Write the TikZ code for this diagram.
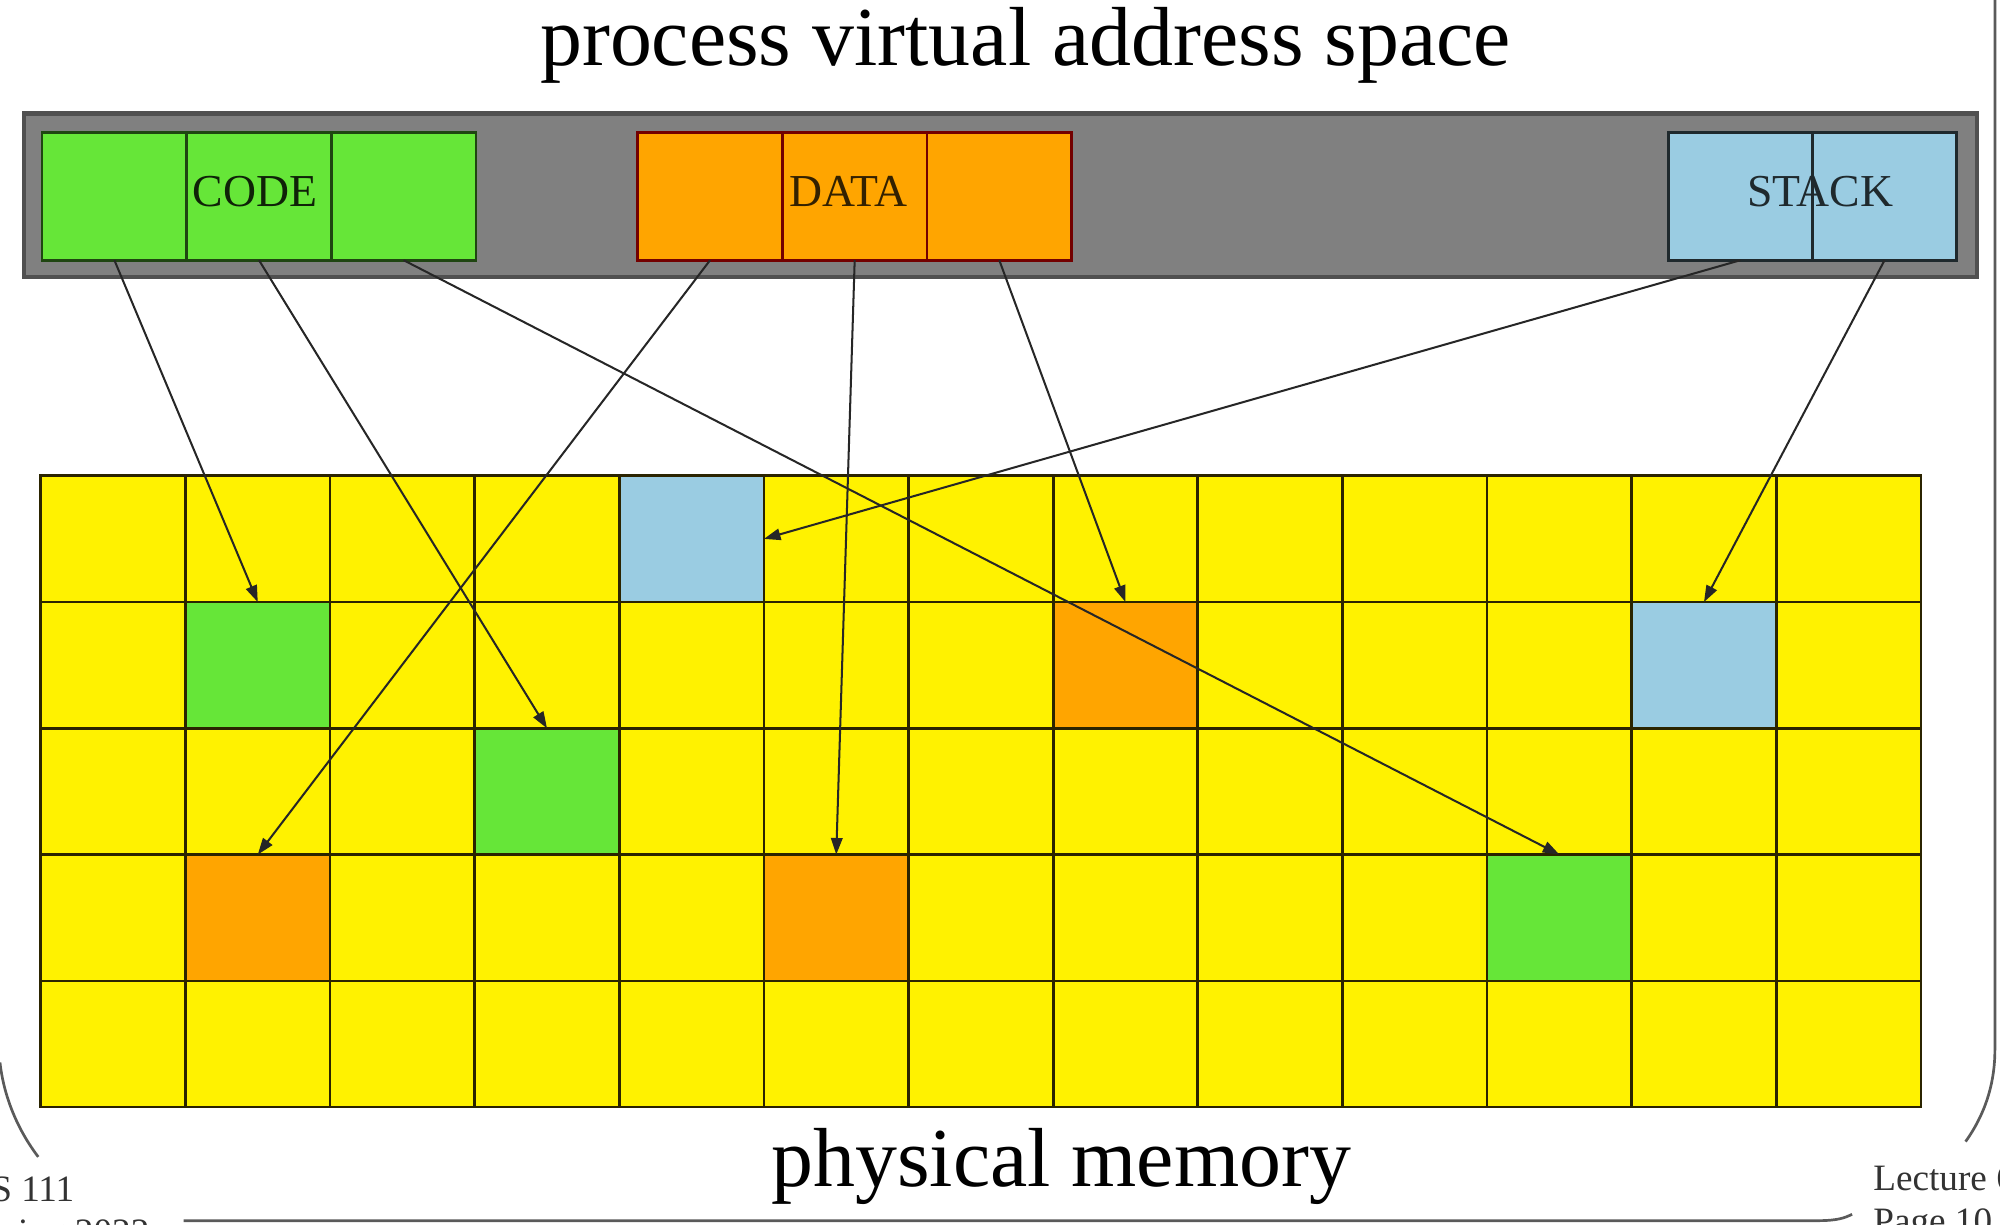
\documentclass[tikz,border=0pt]{standalone}
\usepackage{fontspec}
\setmainfont{Liberation Serif}
\usetikzlibrary{arrows.meta}
\definecolor{memyellow}{HTML}{FFF200}
\definecolor{codegreen}{HTML}{66E638}
\definecolor{dataorange}{HTML}{FFA500}
\definecolor{stackblue}{HTML}{9ACCE2}
\definecolor{bargray}{HTML}{808080}
\definecolor{barborder}{HTML}{505050}
\definecolor{gridline}{HTML}{2B2400}
\definecolor{framegray}{HTML}{5A5A5A}
\tikzset{
  cell/.style={draw=gridline, line width=0.6pt, fill=memyellow, minimum width=11.338mm, minimum height=9.9mm, inner sep=0pt, outer sep=0pt},
  topcell/.style={line width=0.6pt, minimum width=11.338mm, minimum height=10mm, inner sep=0pt, outer sep=0pt},
  codecell/.style={topcell, fill=codegreen, draw=black!70!codegreen},
  datacell/.style={topcell, fill=dataorange, draw=black!55!red},
  stackcell/.style={topcell, fill=stackblue, draw=black!80!stackblue, minimum width=11.3mm},
  seglabel/.style={font=\fontsize{10.2}{12}\selectfont, inner sep=0pt},
  cf-1-1/.style={fill=codegreen}, cf-3-2/.style={fill=codegreen}, cf-10-3/.style={fill=codegreen},
  cf-7-1/.style={fill=dataorange}, cf-1-3/.style={fill=dataorange}, cf-5-3/.style={fill=dataorange},
  cf-4-0/.style={fill=stackblue}, cf-11-1/.style={fill=stackblue},
  map/.style={draw=black!85, line width=0.45pt, -{Triangle[length=1.3mm,width=0.9mm]}},
  bigtext/.style={font=\fontsize{18.7}{22}\selectfont, inner sep=0pt, anchor=base},
  smalltext/.style={font=\fontsize{8.3}{9.6}\selectfont, text=black!80, inner sep=0pt, anchor=base west},
  frameline/.style={draw=framegray, line width=0.6pt}
}
\begin{document}
\begin{tikzpicture}[x=0.1mm, y=-0.1mm]
\useasboundingbox (0,0) rectangle (1568,960);
\clip (0,0) rectangle (1568,960);
\fill[white] (0,0) rectangle (1568,960);

% titles
\node[bigtext] (title) at (804,51) {process virtual address space};
\node[bigtext] (phys) at (832,930) {physical memory};

% virtual address space bar
\node[draw=barborder, fill=bargray, line width=1pt, minimum width=153.1mm, minimum height=12.8mm, inner sep=0pt] (bar) at (784.5,153) {};

% code pages
\foreach \i in {0,1,2} \node[codecell] (c\i) at ({33+113.38*(\i+0.5)},154) {};
% data pages
\foreach \i in {0,1,2} \node[datacell] (d\i) at ({500+113.38*(\i+0.5)},154) {};
% stack pages
\foreach \i in {0,1} \node[stackcell] (s\i) at ({1308+113*(\i+0.5)},154) {};

% segment labels
\node[seglabel, text=black!85!codegreen] (codelabel) at (200,150) {CODE};
\node[seglabel, text=black!80!dataorange] (datalabel) at (665,150) {DATA};
\node[seglabel, text=black!80!stackblue] (stacklabel) at (1427,150) {STACK};

% physical memory grid
\foreach \c in {0,...,12}
  \foreach \r in {0,...,4}
    \node[cell, cf-\c-\r/.try] (g-\c-\r) at ({32+113.385*(\c+0.5)},{373+99*(\r+0.5)}) {};

% mappings
\draw[map] (c0.south) -- (g-1-1.north);
\draw[map] (c1.south) -- (g-3-2.north);
\draw[map] (c2.south) -- (g-10-3.north);
\draw[map] (d0.south) -- (g-1-3.north);
\draw[map] (d1.south) -- (g-5-3.north);
\draw[map] (d2.south) -- (g-7-1.north);
\draw[map] (s0.south) -- (g-4-0.east);
\draw[map] (s1.south) -- (g-11-1.north);

% slide frame remnants
\draw[frameline] (1564,-5) -- (1564,823) .. controls (1564,850) and (1556,874) .. (1541,895);
\draw[frameline] (0,833) .. controls (3,860) and (14,886) .. (30,907);
\draw[frameline] (144,957) -- (1425,957) .. controls (1440,957) and (1446,955) .. (1452,952);

% footer texts
\node[smalltext] (course) at (-27,942) {CS 111};
\node[smalltext] (term) at (-27,976) {Spring 2022};
\node[smalltext] (lecture) at (1468,933) {Lecture 6};
\node[smalltext] (page) at (1468,967) {Page 10};
\end{tikzpicture}
\end{document}
